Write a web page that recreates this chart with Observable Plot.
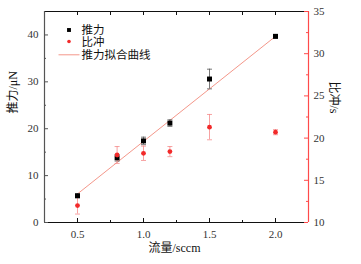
<!DOCTYPE html>
<html><head><meta charset="utf-8">
<script src="https://cdn.jsdelivr.net/npm/d3@7"></script>
<script src="https://cdn.jsdelivr.net/npm/@observablehq/plot@0.6"></script>
<style>body{margin:0;background:#fff} svg{display:block}</style>
</head><body><div id="chart"></div>
<script>
const flow = [0.5, 0.8, 1.0, 1.2, 1.5, 2.0];
const thrust = [5.7, 13.8, 17.4, 21.2, 30.6, 39.7];
const thrustErr = [0.4, 0.7, 0.8, 0.7, 2.1, 0.4];
const isp = [12.0, 18.0, 18.2, 18.4, 21.3, 20.7];
const ispErr = [1.0, 1.0, 0.85, 0.6, 1.5, 0.3];
const fitFlow = [0.5, 2.0];
const fitThrust = [6.1, 39.7];
const xDomain = [0.25, 2.25];
const yDomain = [0, 45];
const rDomain = [10, 35];
const xTicks = [0.5, 1.0, 1.5, 2.0];
const xMinor = [0.75, 1.25, 1.75];
const yTicks = [0, 10, 20, 30, 40];
const yMinor = [5, 15, 25, 35];
const rTicks = [10, 15, 20, 25, 30, 35];
const rMinor = [12.5, 17.5, 22.5, 27.5, 32.5];
const legendNames = ["推力", "比冲", "推力拟合曲线"];
const xLabel = "流量/sccm";
const yLabel = "推力/μN";
const rLabel = "比冲/s";

const W = 361, H = 264, mL = 44, mR = 53, mT = 11, mB = 42;
const iW = W - mL - mR, iH = H - mT - mB;
const RED = "#f22a2a", AXRED = "#ff4a4a", FIT = "#f4978a", DARK = "#333";
const toLeft = v => (v - rDomain[0]) * (yDomain[1] - yDomain[0]) / (rDomain[1] - rDomain[0]) + yDomain[0];
const fromLeft = v => (v - yDomain[0]) * (rDomain[1] - rDomain[0]) / (yDomain[1] - yDomain[0]) + rDomain[0];

const tData = flow.map((x, i) => ({x, y: thrust[i], e: thrustErr[i]}));
const iData = flow.map((x, i) => ({x, y: toLeft(isp[i]), lo: toLeft(isp[i] - ispErr[i]), hi: toLeft(isp[i] + ispErr[i])}));
const fitData = fitFlow.map((x, i) => ({x, y: fitThrust[i]}));

const hline = {draw(ctx, size) { const r = Math.sqrt(size / Math.PI); ctx.moveTo(-r, 0); ctx.lineTo(r, 0); }};
const font = "'Liberation Serif', 'Noto Sans CJK SC', serif";

const chart = Plot.plot({
  width: W, height: H,
  marginLeft: mL, marginRight: mR, marginTop: mT, marginBottom: mB,
  style: {fontFamily: font, fontSize: "11px", color: DARK, background: "#fff"},
  x: {domain: xDomain},
  y: {domain: yDomain},
  marks: [
    Plot.line(fitData, {x: "x", y: "y", stroke: FIT, strokeWidth: 1}),
    // error bars thrust
    Plot.ruleX(tData, {x: "x", y1: d => d.y - d.e, y2: d => d.y + d.e, stroke: "#555", strokeWidth: 0.8}),
    Plot.dot(tData, {x: "x", y: d => d.y - d.e, symbol: hline, r: 2.5, stroke: "#555", strokeWidth: 0.8}),
    Plot.dot(tData, {x: "x", y: d => d.y + d.e, symbol: hline, r: 2.5, stroke: "#555", strokeWidth: 0.8}),
    // error bars isp
    Plot.ruleX(iData, {x: "x", y1: "lo", y2: "hi", stroke: "#f58a8a", strokeWidth: 0.8}),
    Plot.dot(iData, {x: "x", y: "lo", symbol: hline, r: 2.5, stroke: "#f58a8a", strokeWidth: 0.8}),
    Plot.dot(iData, {x: "x", y: "hi", symbol: hline, r: 2.5, stroke: "#f58a8a", strokeWidth: 0.8}),
    // points
    Plot.dot(tData, {x: "x", y: "y", symbol: "square", r: 2.8, fill: "#000"}),
    Plot.dot(iData, {x: "x", y: "y", r: 2.4, fill: RED}),
    // legend
    Plot.dot([legendNames[0]], {frameAnchor: "top-left", dx: 24.5, dy: 18.5, symbol: "square", r: 2.2, fill: "#000"}),
    Plot.dot([legendNames[1]], {frameAnchor: "top-left", dx: 24.5, dy: 30, r: 1.8, fill: RED}),
    Plot.dot([legendNames[2]], {frameAnchor: "top-left", dx: 24.5, dy: 43.3, symbol: hline, r: 10.5, stroke: FIT, strokeWidth: 1}),
    Plot.text([legendNames[0]], {text: d => d, frameAnchor: "top-left", dx: 37, dy: 18.5, textAnchor: "start", lineAnchor: "middle", fontSize: 11.5, fill: "#111"}),
    Plot.text([legendNames[1]], {text: d => d, frameAnchor: "top-left", dx: 37, dy: 30.5, textAnchor: "start", lineAnchor: "middle", fontSize: 11.5, fill: "#111"}),
    Plot.text([legendNames[2]], {text: d => d, frameAnchor: "top-left", dx: 37, dy: 44, textAnchor: "start", lineAnchor: "middle", fontSize: 11.5, fill: "#111"}),
    // frame
    Plot.ruleY([yDomain[1]], {stroke: "#111", strokeWidth: 1}),
    Plot.ruleY([yDomain[0]], {stroke: "#111", strokeWidth: 1.2}),
    Plot.ruleX([xDomain[0]], {stroke: "#555", strokeWidth: 1.2}),
    Plot.ruleX([xDomain[1]], {stroke: AXRED, strokeWidth: 1.2}),
    // ticks
    Plot.tickX(xTicks, {x: d => d, insetTop: iH - 4, stroke: "#111"}),
    Plot.tickX(xMinor, {x: d => d, insetTop: iH - 2, stroke: "#111"}),
    Plot.tickX(xTicks, {x: d => d, insetBottom: iH - 4, stroke: "#111"}),
    Plot.tickX(xMinor, {x: d => d, insetBottom: iH - 4, stroke: "#111"}),
    Plot.tickY(yTicks, {y: d => d, insetRight: iW - 4, stroke: "#555"}),
    Plot.tickY(yMinor, {y: d => d, insetRight: iW - 2, stroke: "#555"}),
    Plot.tickY(rTicks.map(toLeft), {y: d => d, insetLeft: iW - 4, stroke: AXRED}),
    Plot.tickY(rMinor.map(toLeft), {y: d => d, insetLeft: iW - 2, stroke: AXRED}),
    // axes labels
    Plot.axisX(xTicks, {tickSize: 0, tickPadding: 8, tickFormat: d => d.toFixed(1), label: null, fill: DARK}),
    Plot.axisY(yTicks, {anchor: "left", tickSize: 0, tickPadding: 6, label: null, fill: DARK}),
    Plot.axisY(rTicks.map(toLeft), {anchor: "right", tickSize: 0, tickPadding: 5, tickFormat: d => String(Math.round(fromLeft(d))), label: null, fill: DARK}),
    Plot.text([xLabel], {text: d => d, frameAnchor: "bottom", dx: -2, dy: 26, lineAnchor: "middle", fontSize: 12, fill: "#111"}),
    Plot.text([yLabel], {text: d => d, frameAnchor: "left", dx: -31, dy: -3.5, rotate: -90, lineAnchor: "middle", fontSize: 12, fill: "#111"}),
    Plot.text([rLabel], {text: d => d, frameAnchor: "right", dx: 25, dy: -3.5, rotate: 90, lineAnchor: "middle", fontSize: 12, fill: "#111"})
  ]
});
document.getElementById("chart").appendChild(chart);
</script>
</body></html>
